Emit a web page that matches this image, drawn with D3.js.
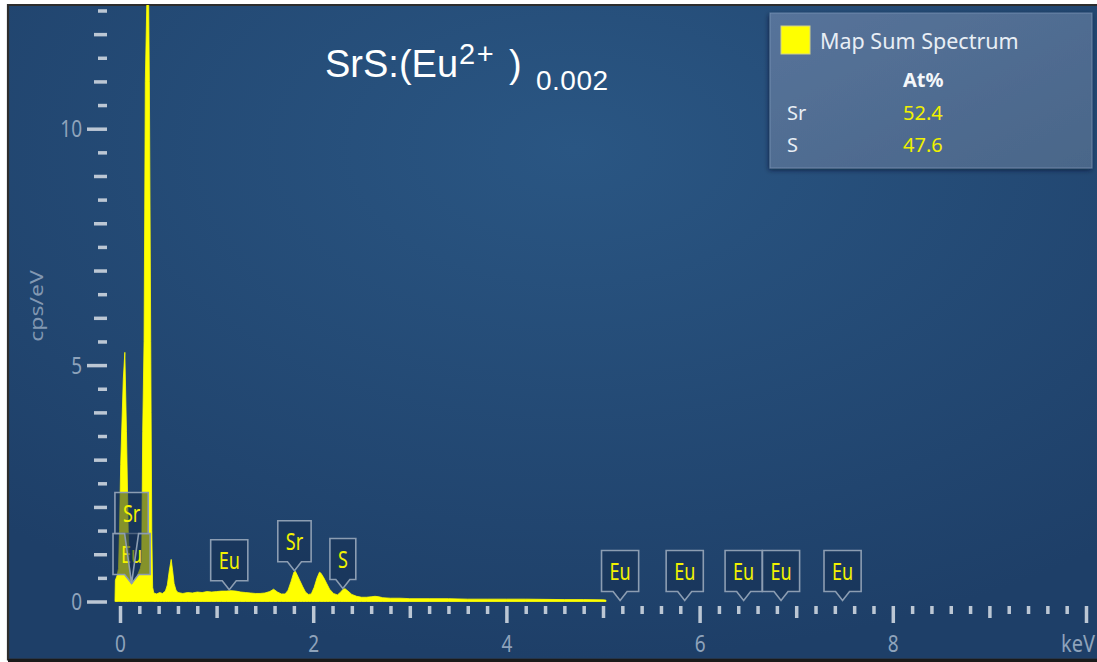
<!DOCTYPE html>
<html>
<head>
<meta charset="utf-8">
<script src="https://cdn.jsdelivr.net/npm/d3@7"></script>
<style>
  html, body { margin: 0; padding: 0; background: #ffffff; }
  svg { display: block; }
</style>
</head>
<body>
<svg id="chart" width="1097" height="662"></svg>
<script>
// EDS spectrum of SrS:Eu — energy (keV) and count rate (cps/eV)
const spectrumKeV = [
  -0.052, -0.048, -0.03, -0.015, -0.005, 0.007, 0.034, 0.05, 0.067, 0.085, 0.10, 0.12,
  0.15, 0.18, 0.21, 0.225, 0.235, 0.249, 0.256, 0.262, 0.277, 0.287, 0.297, 0.304,
  0.311, 0.318, 0.322, 0.329, 0.338, 0.35, 0.38, 0.41, 0.44, 0.47, 0.49, 0.51, 0.53,
  0.545, 0.56, 0.58, 0.60, 0.65, 0.70, 0.75, 0.80, 0.85, 0.90, 0.95, 1.00, 1.05,
  1.10, 1.15, 1.20, 1.25, 1.30, 1.35, 1.40, 1.45, 1.50, 1.55, 1.59, 1.63, 1.67, 1.71,
  1.74, 1.77, 1.80, 1.815, 1.83, 1.86, 1.89, 1.92, 1.95, 1.98, 2.01, 2.04, 2.065,
  2.08, 2.11, 2.14, 2.17, 2.21, 2.25, 2.28, 2.31, 2.33, 2.36, 2.40, 2.45, 2.50, 2.55,
  2.60, 2.64, 2.68, 2.72, 2.80, 2.90, 3.00, 3.20, 3.40, 3.60, 3.80, 4.00, 4.20, 4.40,
  4.60, 4.80, 5.00, 5.03, 5.031
];
const spectrumCps = [
  0, 0.45, 0.55, 0.7, 1.5, 2.9, 4.7, 5.27, 3.6, 1.5, 0.6, 0.36,
  0.45, 0.55, 0.7, 0.85, 3.6, 5.5, 8.3, 11.0, 12.6, 13.2, 12.6, 11.0,
  8.3, 5.5, 4.0, 1.5, 0.3, 0.18, 0.16, 0.19, 0.17, 0.22, 0.35, 0.65, 0.89,
  0.65, 0.38, 0.24, 0.19, 0.17, 0.19, 0.18, 0.20, 0.19, 0.21, 0.20, 0.21, 0.22,
  0.22, 0.23, 0.22, 0.20, 0.19, 0.18, 0.17, 0.17, 0.18, 0.21, 0.26, 0.20, 0.16, 0.16,
  0.24, 0.42, 0.62, 0.64, 0.58, 0.45, 0.32, 0.20, 0.15, 0.16, 0.30, 0.50, 0.62,
  0.60, 0.50, 0.38, 0.26, 0.17, 0.14, 0.19, 0.26, 0.27, 0.22, 0.15, 0.11, 0.09, 0.09,
  0.10, 0.11, 0.10, 0.08, 0.07, 0.07, 0.06, 0.06, 0.06, 0.05, 0.05, 0.05, 0.05, 0.045,
  0.04, 0.04, 0.035, 0.03, 0
];

// Element line markers
const markerElements = ['Eu', 'Sr', 'Eu', 'Sr', 'S', 'Eu', 'Eu', 'Eu', 'Eu', 'Eu'];
const markerKeV      = [0.12, 0.12, 1.131, 1.806, 2.307, 5.177, 5.846, 6.456, 6.843, 7.480];
const markerStack    = [0, 1, 0, 0, 0, 0, 0, 0, 0, 0];

// Axis labels
const xTickLabels = [0, 2, 4, 6, 8];
const yTickLabels = [0, 5, 10];
const xUnit = 'keV';
const yUnit = 'cps/eV';

// Quantification table
const legendTitle = 'Map Sum Spectrum';
const quantHeader = 'At%';
const quantElements = ['Sr', 'S'];
const quantValues = [52.4, 47.6];

const svg = d3.select('#chart');
const defs = svg.append('defs');

const bgGrad = defs.append('radialGradient').attr('id', 'bgGrad')
  .attr('cx', 0.52).attr('cy', 0.22).attr('r', 0.78);
bgGrad.append('stop').attr('offset', 0).attr('stop-color', '#2a5683');
bgGrad.append('stop').attr('offset', 1).attr('stop-color', '#1e3f68');

const legGrad = defs.append('linearGradient').attr('id', 'legGrad')
  .attr('x1', 0).attr('y1', 0).attr('x2', 1).attr('y2', 1);
legGrad.append('stop').attr('offset', 0).attr('stop-color', '#56739a');
legGrad.append('stop').attr('offset', 1).attr('stop-color', '#4a6689');

const shadow = defs.append('filter').attr('id', 'legShadow')
  .attr('x', -0.1).attr('y', -0.1).attr('width', 1.2).attr('height', 1.3);
shadow.append('feDropShadow').attr('dx', -1).attr('dy', 2).attr('stdDeviation', 2.5)
  .attr('flood-color', '#061428').attr('flood-opacity', 0.6);

defs.append('clipPath').attr('id', 'plotClip')
  .append('rect').attr('x', 8).attr('y', 5).attr('width', 1089).attr('height', 654);

// Panel background and frame
svg.append('rect').attr('x', 8).attr('y', 5).attr('width', 1089).attr('height', 654)
  .attr('fill', 'url(#bgGrad)');
svg.append('path').attr('d', 'M1097,5 H8 V659.5 H1097')
  .attr('fill', 'none').attr('stroke', '#2d2d2d').attr('stroke-width', 2.2);
svg.append('line').attr('x1', 8).attr('x2', 1097).attr('y1', 660.5).attr('y2', 660.5)
  .attr('stroke', '#1a1a1a').attr('stroke-width', 3);

// Scales
const x = d3.scaleLinear().domain([0, 10]).range([120, 1086]);
const y = d3.scaleLinear().domain([0, 12.5]).range([601.5, 10.5]);

// Spectrum
const points = d3.zip(spectrumKeV, spectrumCps);
const area = d3.area()
  .x(d => x(d[0]))
  .y0(y(0))
  .y1(d => y(d[1]))
  .curve(d3.curveLinear);
svg.append('g').attr('clip-path', 'url(#plotClip)')
  .append('path').datum(points)
  .attr('d', area)
  .attr('fill', '#ffff00')
  .attr('stroke', '#ffff00')
  .attr('stroke-width', 0.8)
  .attr('stroke-linejoin', 'round');

// Axes
const tickColor = '#bcc7d4';
const labelColor = '#8fa3bb';
function styleAxis(g) {
  g.select('.domain').remove();
  g.attr('font-size', null).attr('font-family', null);
  g.selectAll('.tick line').attr('stroke', tickColor).attr('stroke-width', 3.5);
}

const minorX = d3.range(0, 50).map(i => i * 0.2).filter(v => Math.abs(v - Math.round(v)) > 1e-6);
const midX = d3.range(1, 10, 2);
const majorX = d3.range(0, 11, 2);

const xAxisY = 606;
svg.append('g').attr('transform', `translate(0,${xAxisY})`)
  .call(d3.axisBottom(x).tickValues(minorX).tickSize(8).tickFormat(''))
  .call(styleAxis);
svg.append('g').attr('transform', `translate(0,${xAxisY})`)
  .call(d3.axisBottom(x).tickValues(midX).tickSize(12).tickFormat(''))
  .call(styleAxis);
const xMajor = svg.append('g').attr('transform', `translate(0,${xAxisY})`)
  .call(d3.axisBottom(x).tickValues(majorX).tickSize(17)
    .tickFormat(d => xTickLabels.includes(d) ? String(d) : ''))
  .call(styleAxis);
xMajor.selectAll('.tick text')
  .attr('y', 0).attr('dy', 0)
  .attr('transform', 'translate(0,45.5) scale(1,1.22)')
  .attr('fill', labelColor)
  .style('font-family', '"Noto Sans", sans-serif')
  .style('font-size', '19px');

svg.append('text')
  .attr('transform', 'translate(1095,651.5) scale(1,1.15)')
  .attr('text-anchor', 'end')
  .attr('fill', labelColor)
  .style('font-family', '"Noto Sans", sans-serif')
  .style('font-size', '20px')
  .text(xUnit);

const halfY = d3.range(0, 26).map(i => i * 0.5);
const minorY = halfY.filter(v => v % 1 !== 0);
const midY = halfY.filter(v => v % 1 === 0 && v % 5 !== 0);
const majorY = halfY.filter(v => v % 5 === 0);

const yAxisX = 107;
svg.append('g').attr('transform', `translate(${yAxisX},0)`)
  .call(d3.axisLeft(y).tickValues(minorY).tickSize(9).tickFormat(''))
  .call(styleAxis);
svg.append('g').attr('transform', `translate(${yAxisX},0)`)
  .call(d3.axisLeft(y).tickValues(midY).tickSize(13).tickFormat(''))
  .call(styleAxis);
const yMajor = svg.append('g').attr('transform', `translate(${yAxisX},0)`)
  .call(d3.axisLeft(y).tickValues(majorY).tickSize(20)
    .tickFormat(d => yTickLabels.includes(d) ? String(d) : ''))
  .call(styleAxis);
yMajor.selectAll('.tick text')
  .attr('x', 0).attr('dy', 0)
  .attr('text-anchor', 'end')
  .attr('transform', 'translate(-25,8) scale(1,1.2)')
  .attr('fill', labelColor)
  .style('font-family', '"Noto Sans", sans-serif')
  .style('font-size', '19px');

svg.append('text')
  .attr('transform', 'translate(43,306) rotate(-90) scale(1.28,1)')
  .attr('text-anchor', 'middle')
  .attr('fill', '#8298b2')
  .style('font-family', '"Noto Sans", sans-serif')
  .style('font-size', '18px')
  .text(yUnit);

// Spectrum level at an energy, for placing marker pointers
const bisect = d3.bisector(d => d).left;
function levelAt(e) {
  if (e <= spectrumKeV[0] || e >= spectrumKeV[spectrumKeV.length - 1]) return 0;
  const i = bisect(spectrumKeV, e);
  const e0 = spectrumKeV[i - 1], e1 = spectrumKeV[i];
  const t = (e - e0) / (e1 - e0);
  return spectrumCps[i - 1] + t * (spectrumCps[i] - spectrumCps[i - 1]);
}

// Element markers: translucent boxes with a pointer to the line energy
const boxH = 41, tailH = 9, tailW = 14, padX = 8;
const markers = svg.append('g');
markerElements.forEach((el, i) => {
  const tx = x(markerKeV[i]);
  const ty = y(levelAt(markerKeV[i])) - 1;
  const g = markers.append('g');
  const label = g.append('text')
    .attr('text-anchor', 'middle')
    .attr('fill', '#f2f200')
    .style('font-family', '"Noto Sans", sans-serif')
    .style('font-size', '18px')
    .text(el);
  const bw = label.node().getComputedTextLength() + 2 * padX;
  const bBottom = ty - tailH - markerStack[i] * boxH;
  const bTop = bBottom - boxH;
  g.insert('path', 'text')
    .attr('d', `M${tx - bw / 2},${bTop} H${tx + bw / 2} V${bBottom} H${tx + tailW / 2} L${tx},${ty} L${tx - tailW / 2},${bBottom} H${tx - bw / 2} Z`)
    .attr('fill', 'rgba(22,46,80,0.52)')
    .attr('stroke', '#8c9db2')
    .attr('stroke-width', 1.6)
    .attr('stroke-linejoin', 'miter');
  label.attr('transform', `translate(${tx},${bBottom - 11.5}) scale(1,1.3)`);
});

// Title with charge and dopant fraction
const title = svg.append('text')
  .attr('fill', '#ffffff')
  .style('font-family', '"Liberation Sans", Arial, sans-serif');
title.append('tspan').attr('x', 325).attr('y', 77).style('font-size', '38px').text('SrS:(Eu');
title.append('tspan').attr('x', 459).attr('y', 64).style('font-size', '29px')
  .style('letter-spacing', '1.5px').text('2+');
title.append('tspan').attr('x', 509).attr('y', 77).style('font-size', '38px').text(')');
title.append('tspan').attr('x', 536).attr('y', 90).style('font-size', '28px')
  .style('letter-spacing', '0.5px').text('0.002');

// Legend and quantification panel
const leg = svg.append('g');
leg.append('rect').attr('x', 770).attr('y', 13).attr('width', 322).attr('height', 155)
  .attr('fill', 'url(#legGrad)')
  .attr('stroke', 'rgba(150,175,205,0.45)').attr('stroke-width', 1)
  .attr('filter', 'url(#legShadow)');
leg.append('rect').attr('x', 781).attr('y', 26).attr('width', 29).attr('height', 28)
  .attr('fill', '#ffff00').attr('stroke', '#cfd08e').attr('stroke-width', 1);
leg.append('text').attr('x', 820).attr('y', 48.5)
  .attr('fill', '#e8eef5')
  .style('font-family', '"Noto Sans", sans-serif').style('font-size', '21.5px')
  .text(legendTitle);
leg.append('text').attr('x', 903).attr('y', 86.5)
  .attr('fill', '#f4f7fa')
  .style('font-family', '"Noto Sans", sans-serif').style('font-size', '20px')
  .style('font-weight', 'bold')
  .text(quantHeader);
const rowY = d3.scalePoint().domain(quantElements).range([120, 151.5]);
quantElements.forEach((el, i) => {
  leg.append('text').attr('x', 787).attr('y', rowY(el))
    .attr('fill', '#e8eef5')
    .style('font-family', '"Noto Sans", sans-serif').style('font-size', '20px')
    .text(el);
  leg.append('text').attr('x', 903).attr('y', rowY(el))
    .attr('fill', '#f0f000')
    .style('font-family', '"Noto Sans", sans-serif').style('font-size', '20px')
    .text(quantValues[i].toFixed(1));
});
</script>
</body>
</html>
